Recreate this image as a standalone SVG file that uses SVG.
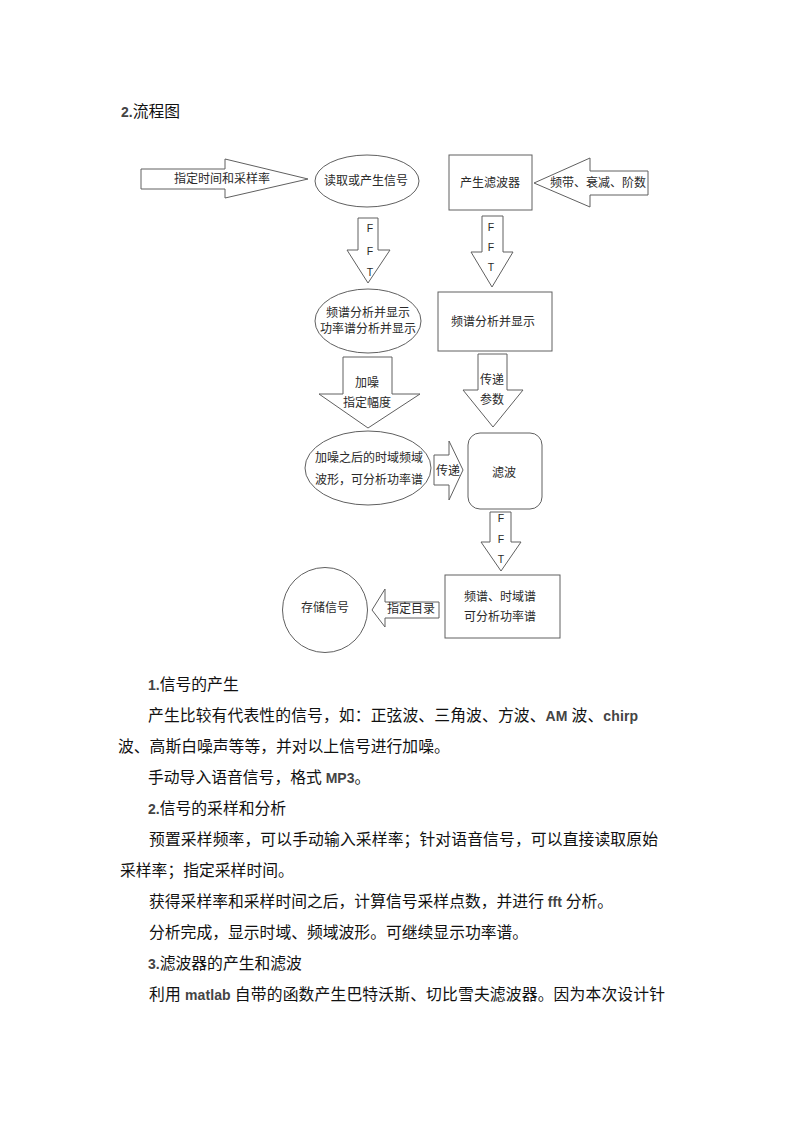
<svg xmlns="http://www.w3.org/2000/svg" width="794" height="1123" viewBox="0 0 794 1123">
<style>
.sh{fill:#fff;stroke:#606060;stroke-width:1}
.ft{font-family:"Liberation Sans","Noto Sans CJK SC",sans-serif;font-size:12px;fill:#2a2a2a;text-anchor:middle;dominant-baseline:central}
.fl{font-family:"Liberation Sans",sans-serif;font-size:10.5px;fill:#2a2a2a;text-anchor:middle;dominant-baseline:central}
.bt{font-family:"Noto Sans CJK SC",sans-serif;font-size:15.8px;fill:#111}
.lat{font-family:"Liberation Sans",sans-serif;font-weight:bold;font-size:14px;fill:#444}
</style>
<rect width="794" height="1123" fill="#fff"/>
<text class="bt" x="121" y="117"><tspan class="lat">2.</tspan>流程图</text>

<g id="connectors">
  <g id="a-time">
    <polygon class="sh" points="141,169 225,169 225,159 308,179 225,198 225,189 141,189"/>
    <text class="ft" x="222" y="179">指定时间和采样率</text>
  </g>
  <g id="a-fft1">
    <polygon class="sh" points="358,218 378,218 378,250 390,250 368,283 347,250 358,250"/>
    <text class="fl" x="370" y="228">F</text>
    <text class="fl" x="370" y="251">F</text>
    <text class="fl" x="370" y="272">T</text>
  </g>
  <g id="a-band">
    <polygon class="sh" points="648,171 590,171 590,158 534,183 590,207 590,195 648,195"/>
    <text class="ft" x="598" y="183">频带、衰减、阶数</text>
  </g>
  <g id="a-fft2">
    <polygon class="sh" points="482,216 503,216 503,252 513,252 492,287 471,252 482,252"/>
    <text class="fl" x="491" y="227">F</text>
    <text class="fl" x="491" y="247">F</text>
    <text class="fl" x="491" y="267">T</text>
  </g>
  <g id="a-noise">
    <polygon class="sh" points="343,357 392,357 392,394 420,394 368,428 319,394 343,394"/>
    <text class="ft" x="367" y="383">加噪</text>
    <text class="ft" x="367" y="403">指定幅度</text>
  </g>
  <g id="a-param">
    <polygon class="sh" points="478,354 507,354 507,390 523,390 493,427 463,390 478,390"/>
    <text class="ft" x="492" y="380">传递</text>
    <text class="ft" x="492" y="400">参数</text>
  </g>
  <g id="a-pass">
    <polygon class="sh" points="434,455 449,455 449,441 463,470 449,500 449,485 434,485"/>
    <text class="ft" x="448" y="471">传递</text>
  </g>
  <g id="a-fft3">
    <polygon class="sh" points="490,512 511,512 511,542 521,542 501,571 481,542 490,542"/>
    <text class="fl" x="501" y="518">F</text>
    <text class="fl" x="501" y="539">F</text>
    <text class="fl" x="501" y="559">T</text>
  </g>
  <g id="a-dir">
    <polygon class="sh" points="439,602 385,602 385,589 372,610 385,627 385,618 439,618"/>
    <text class="ft" x="411" y="609">指定目录</text>
  </g>
</g>

<g id="n-read">
  <ellipse class="sh" cx="367" cy="181" rx="52" ry="26"/>
  <text class="ft" x="366" y="181">读取或产生信号</text>
</g>
<g id="n-filter">
  <rect class="sh" x="449" y="155" width="83" height="55"/>
  <text class="ft" x="490" y="183">产生滤波器</text>
</g>
<g id="n-spec1">
  <ellipse class="sh" cx="368" cy="321" rx="53" ry="32"/>
  <text class="ft" x="368" y="313">频谱分析并显示</text>
  <text class="ft" x="368" y="329">功率谱分析并显示</text>
</g>
<g id="n-spec2">
  <rect class="sh" x="438" y="292" width="114" height="59"/>
  <text class="ft" x="493" y="322">频谱分析并显示</text>
</g>
<g id="n-noisy">
  <ellipse class="sh" cx="368" cy="468" rx="63" ry="37"/>
  <text class="ft" x="369" y="458">加噪之后的时域频域</text>
  <text class="ft" x="369" y="480">波形，可分析功率谱</text>
</g>
<g id="n-filtering">
  <rect class="sh" x="468" y="433" width="74" height="76" rx="12" ry="12"/>
  <text class="ft" x="504" y="473">滤波</text>
</g>
<g id="n-result">
  <rect class="sh" x="445" y="575" width="115" height="63"/>
  <text class="ft" x="500" y="597">频谱、时域谱</text>
  <text class="ft" x="500" y="617">可分析功率谱</text>
</g>
<g id="n-store">
  <circle class="sh" cx="325" cy="610" r="42.5"/>
  <text class="ft" x="325" y="608">存储信号</text>
</g>

<g id="body">
  <text class="bt" x="148" y="690"><tspan class="lat">1.</tspan>信号的产生</text>
  <text class="bt" x="148" y="721" textLength="490" lengthAdjust="spacing">产生比较有代表性的信号，如：正弦波、三角波、方波、<tspan class="lat">AM </tspan>波、<tspan class="lat">chirp</tspan></text>
  <text class="bt" x="118" y="752">波、高斯白噪声等等，并对以上信号进行加噪。</text>
  <text class="bt" x="148" y="783">手动导入语音信号，格式<tspan class="lat"> MP3</tspan>。</text>
  <text class="bt" x="148" y="814"><tspan class="lat">2.</tspan>信号的采样和分析</text>
  <text class="bt" x="149" y="845" textLength="509" lengthAdjust="spacing">预置采样频率，可以手动输入采样率；针对语音信号，可以直接读取原始</text>
  <text class="bt" x="120" y="876">采样率；指定采样时间。</text>
  <text class="bt" x="149" y="907">获得采样率和采样时间之后，计算信号采样点数，并进行<tspan class="lat"> fft </tspan>分析。</text>
  <text class="bt" x="149" y="938">分析完成，显示时域、频域波形。可继续显示功率谱。</text>
  <text class="bt" x="148" y="969"><tspan class="lat">3.</tspan>滤波器的产生和滤波</text>
  <text class="bt" x="149" y="1000" textLength="516" lengthAdjust="spacing">利用<tspan class="lat"> matlab </tspan>自带的函数产生巴特沃斯、切比雪夫滤波器。因为本次设计针</text>
</g>
</svg>
